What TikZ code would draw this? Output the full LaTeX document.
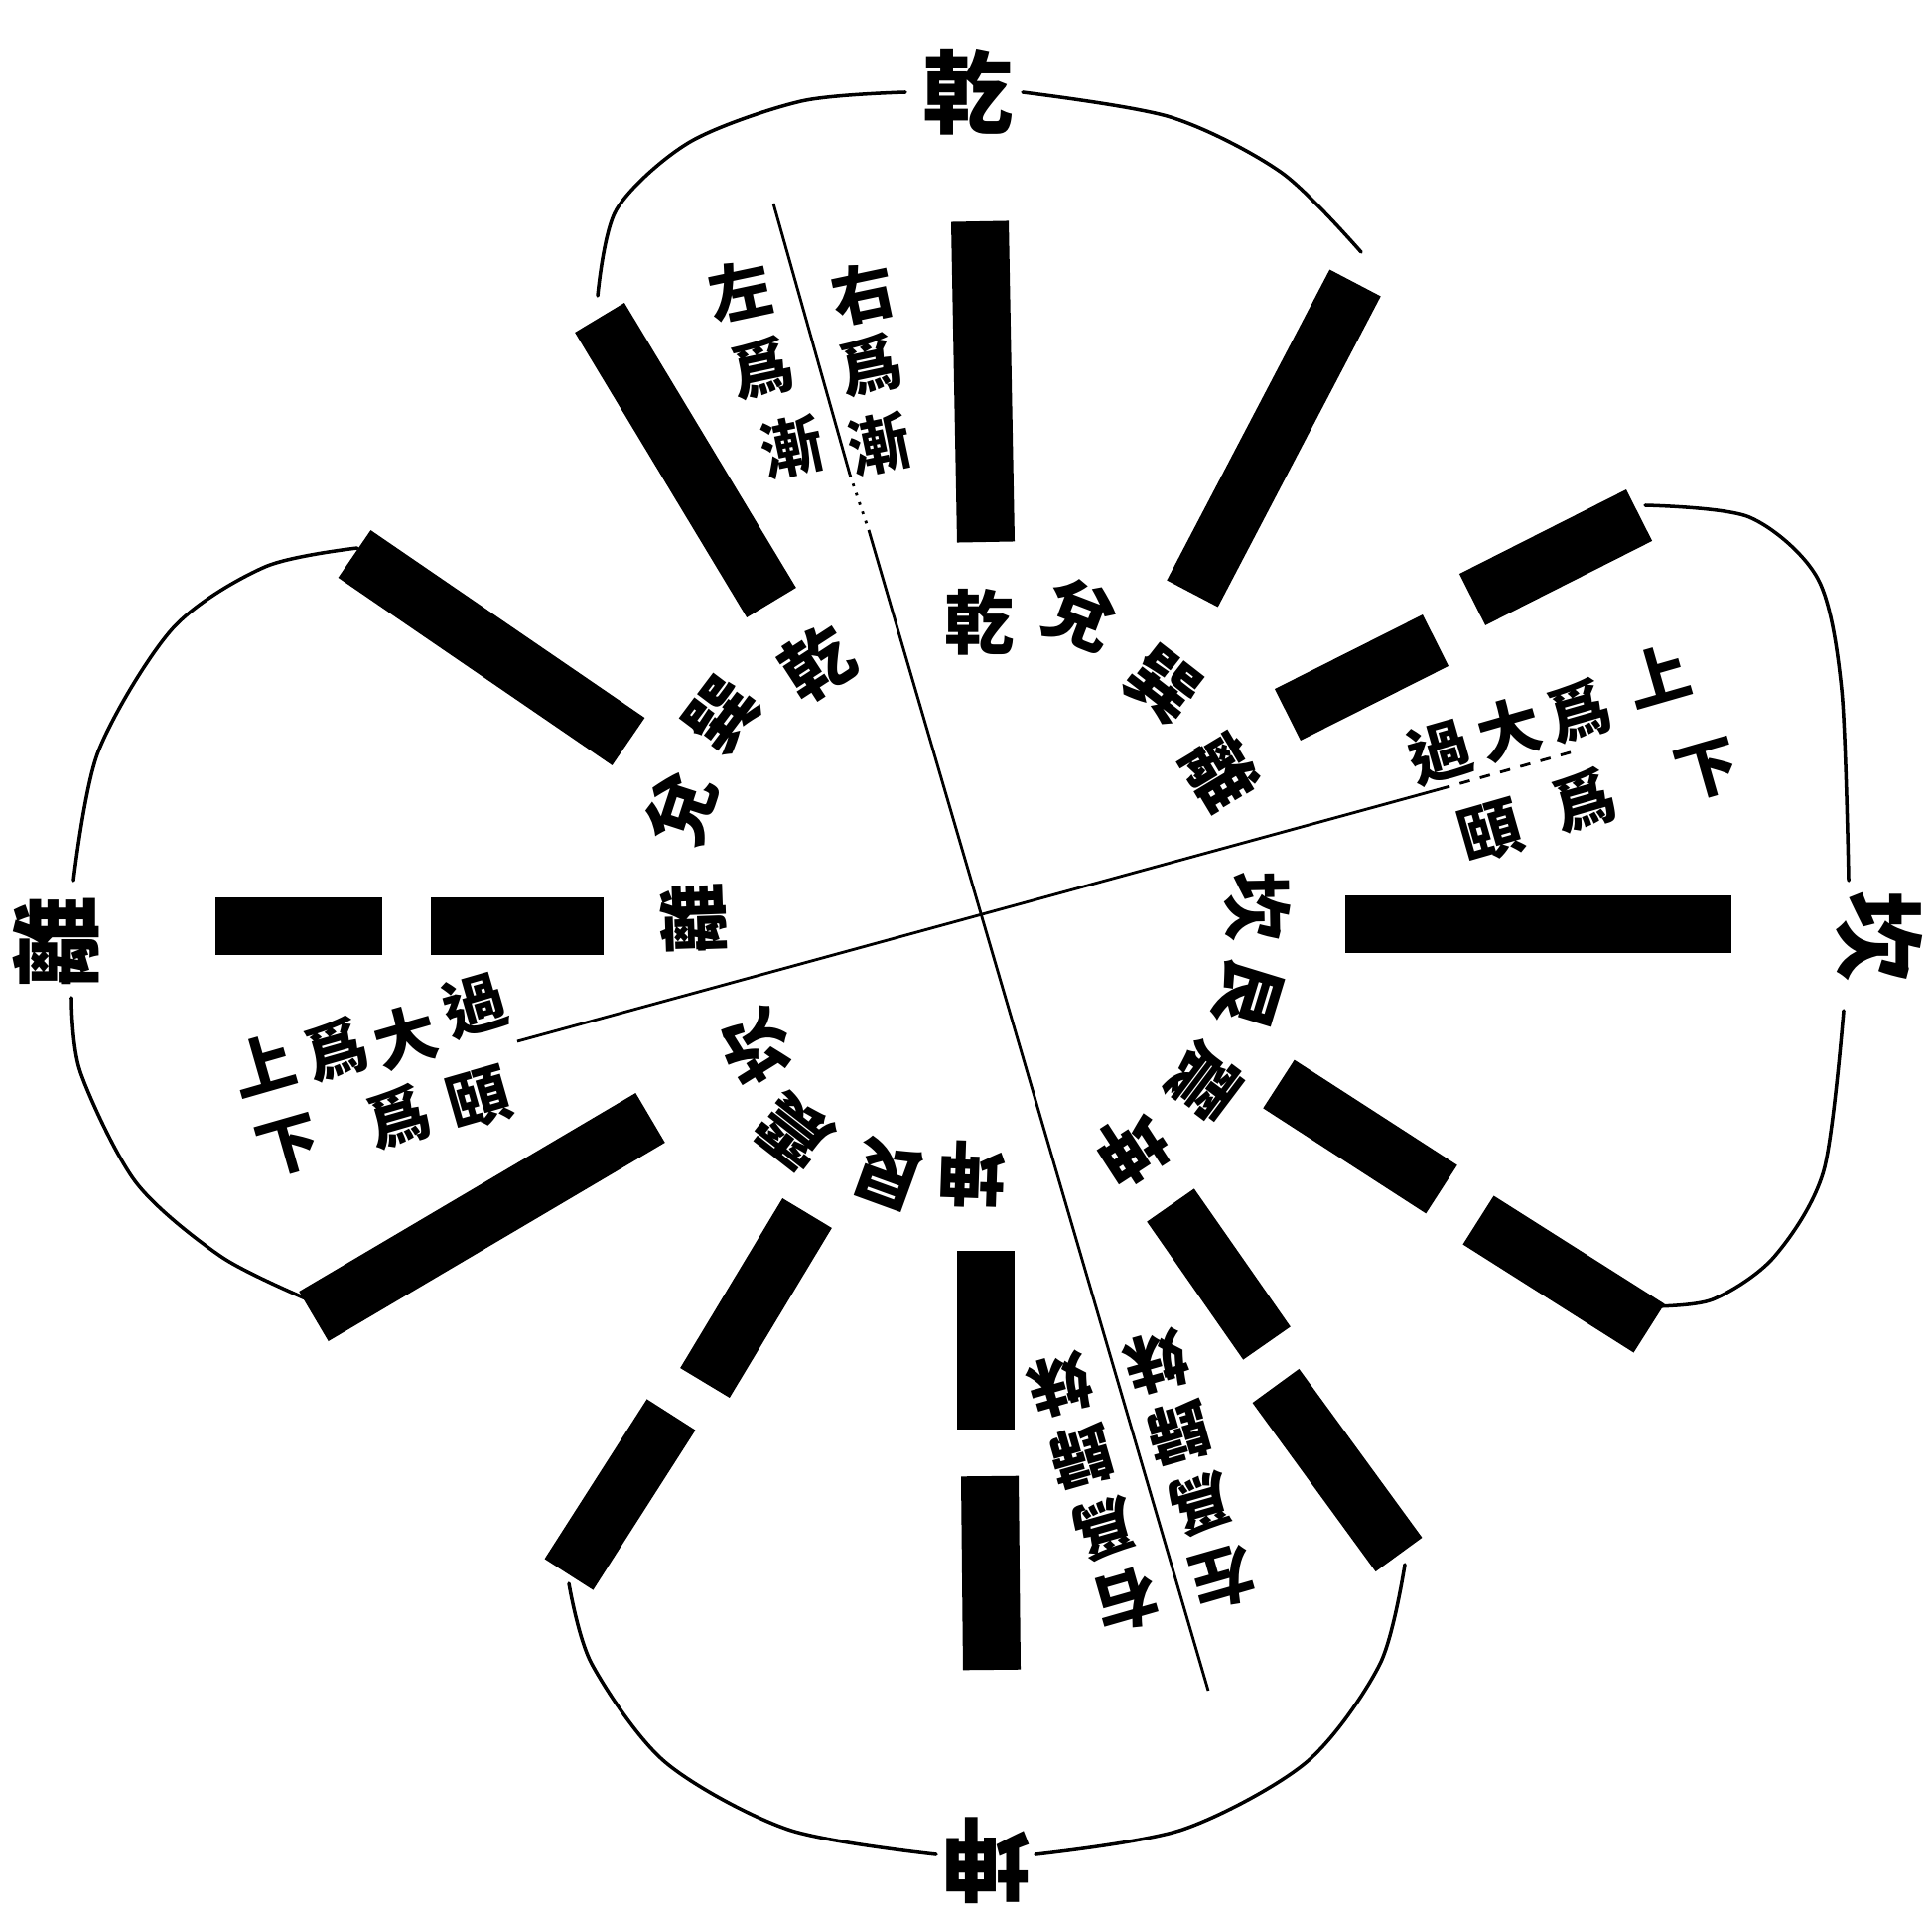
\documentclass[tikz,border=0pt]{standalone}
\usepackage{fontspec}
\newfontfamily\cjk{Noto Sans CJK TC}
\begin{document}
\begin{tikzpicture}[x=0.01cm,y=-0.01cm,
  yao/.style={line width=5.8mm},
  rim/.style={line width=1pt,line cap=round},
  axisline/.style={line width=0.8pt},
  gua/.style={font=\cjk\bfseries\fontsize{26}{26}\selectfont,inner sep=0pt},
  huan/.style={font=\cjk\bfseries\fontsize{20}{20}\selectfont,inner sep=0pt},
  zi/.style={font=\cjk\bfseries\fontsize{18}{18}\selectfont,inner sep=0pt}]
\useasboundingbox (0,0) rectangle (1946,1922);

% yao bars
\foreach \xa/\ya/\xb/\yb in {987/223/993/546, 604/320/777/607, 1365/285/1201/598,
  1483/604/1651/519, 1297/720/1446/645, 1355/931/1744/931,
  1288/1092/1452/1198, 1489/1229/1661/1338,
  813/1222/710/1393, 676/1425/573/1586, 993/1260/993/1440, 997/1487/999/1682,
  1179/1214/1276/1353, 1285/1396/1409/1566,
  357/558/633/747, 217/933/385/933, 434/933/608/933, 316/1326/655/1126}
  \draw[yao] (\xa,\ya) -- (\xb,\yb);

% outer labels
\node[gua] (qian) at (975,93) {乾};
\node[gua,rotate=-90] (kan) at (1893,943) {坎};
\node[gua,rotate=180] (kun) at (993,1874) {坤};
\node[gua,rotate=90] (li) at (56,949) {離};

% petals
\draw[rim] plot[smooth] coordinates {(602,298) (621,211) (695,143) (807,102) (912,93)};
\draw[rim] plot[smooth] coordinates {(1030,93) (1179,118) (1291,174) (1371,254)};
\draw[rim] plot[smooth] coordinates {(1657,509) (1762,521) (1831,583) (1855,695) (1862,887)};
\draw[rim] plot[smooth] coordinates {(1857,1018) (1837,1179) (1787,1266) (1725,1309) (1663,1316)};
\draw[rim] plot[smooth] coordinates {(573,1595) (596,1676) (670,1775) (794,1843) (943,1868)};
\draw[rim] plot[smooth] coordinates {(1043,1868) (1191,1843) (1316,1775) (1390,1676) (1415,1576)};
\draw[rim] plot[smooth] coordinates {(310,1309) (223,1266) (137,1191) (81,1080) (72,1005)};
\draw[rim] plot[smooth] coordinates {(74,887) (99,757) (174,633) (267,571) (360,552)};

% dividing lines
\coordinate (ntop) at (779,205);
\coordinate (nbot) at (1217,1703);
\coordinate (wend) at (521,1049);
\coordinate (eend) at (1585,757);
\draw[axisline] (ntop) -- (856,478);
\draw[axisline,dotted] (856,478) -- (875,534);
\draw[axisline] (875,534) -- (nbot);
\draw[axisline] (wend) -- (1450,795);
\draw[axisline,dashed] (1450,795) -- (eend);

% ring
\foreach \c/\x/\y/\r [count=\i] in {乾/987/627/0, 兌/1088/620/-21, 巽/1172/690/-38,
  離/1230/778/-59, 坎/1267/913/-89, 艮/1257/1001/-107, 震/1213/1090/-127,
  坤/1140/1157/-147, 坤/978/1183/178, 艮/895/1183/160, 震/800/1140/142,
  坎/762/1055/122, 離/698/925/92, 兌/686/815/72, 巽/727/720/53, 乾/823/668/33}
  \node[huan,rotate=\r] (r\i) at (\x,\y) {\c};

% notes
\foreach \c/\x/\y [count=\i] in {右/869/295, 爲/876/368, 漸/885/447}
  \node[zi,rotate=12] (t\i) at (\x,\y) {\c};
\foreach \c/\x/\y [count=\i] in {左/745/293, 爲/767/371, 漸/797/450}
  \node[zi,rotate=12] (l\i) at (\x,\y) {\c};
\foreach \c/\x/\y [count=\i] in {上/1670/680, 爲/1590/716, 大/1520/735, 過/1450/758}
  \node[zi,rotate=16] (e\i) at (\x,\y) {\c};
\foreach \c/\x/\y [count=\i] in {下/1720/776, 爲/1595/806, 頤/1502/838}
  \node[zi,rotate=16] (f\i) at (\x,\y) {\c};
\foreach \c/\x/\y [count=\i] in {上/265/1072, 爲/338/1057, 大/408/1045, 過/478/1013}
  \node[zi,rotate=16] (w\i) at (\x,\y) {\c};
\foreach \c/\x/\y [count=\i] in {下/291/1155, 爲/401/1125, 頤/483/1107}
  \node[zi,rotate=16] (v\i) at (\x,\y) {\c};
\foreach \c/\x/\y [count=\i] in {妹/1165/1372, 歸/1188/1443, 爲/1210/1515, 左/1232/1590}
  \node[zi,rotate=196] (s\i) at (\x,\y) {\c};
\foreach \c/\x/\y [count=\i] in {妹/1068/1395, 歸/1090/1467, 爲/1113/1540, 右/1135/1612}
  \node[zi,rotate=196] (u\i) at (\x,\y) {\c};
\end{tikzpicture}
\end{document}
